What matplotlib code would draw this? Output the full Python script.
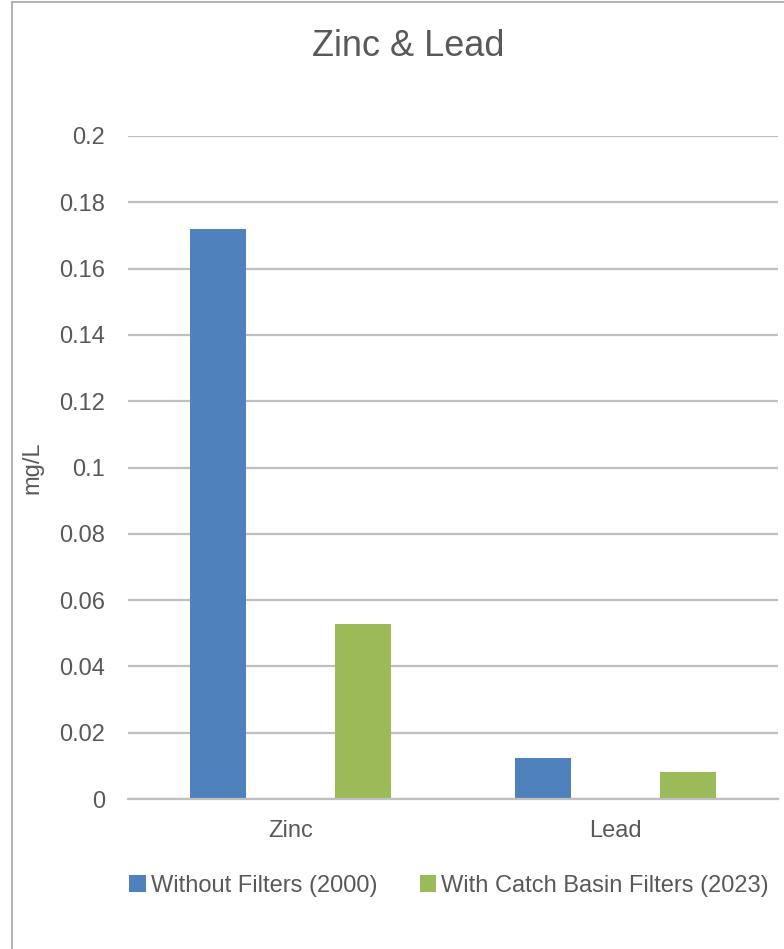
import matplotlib
matplotlib.use("Agg")
import matplotlib.pyplot as plt
from matplotlib.patches import Rectangle
import numpy as np

# Metal concentrations in stormwater runoff (mg/L)
categories = ["Zinc", "Lead"]
series_names = ["Without Filters (2000)", "With Catch Basin Filters (2023)"]
without_filters = [0.172, 0.0125]
with_filters = [0.0527, 0.0080]
y_ticks = [0, 0.02, 0.04, 0.06, 0.08, 0.1, 0.12, 0.14, 0.16, 0.18, 0.2]
y_tick_labels = ["0", "0.02", "0.04", "0.06", "0.08", "0.1", "0.12", "0.14", "0.16", "0.18", "0.2"]

BLUE = "#4F81BD"
GREEN = "#9BBB59"
TEXT = "#595959"
GRID = "#BFBFBF"

plt.rcParams["font.family"] = ["Liberation Sans", "DejaVu Sans"]

W, H = 784, 949
fig = plt.figure(figsize=(W / 100, H / 100), dpi=100)
fig.patch.set_facecolor("white")

# chart-area frame
fig.patches.append(Rectangle((12 / W, -0.05), 1.2, (H - 2) / H + 0.05,
                             transform=fig.transFigure, fill=False,
                             edgecolor="#B4B4B4", linewidth=1.5))

ax = fig.add_axes([128 / W, (H - 799) / H, (778 - 128) / W, (799 - 136) / H])
x = np.arange(len(categories))
bar_w = 0.175
offset = 0.223
ax.bar(x - offset, without_filters, width=bar_w, color=BLUE, label=series_names[0], zorder=3)
ax.bar(x + offset, with_filters, width=bar_w, color=GREEN, label=series_names[1], zorder=3)

ax.set_xlim(-0.5, len(categories) - 0.5)
ax.set_ylim(0, 0.2)
ax.set_yticks(y_ticks)
ax.set_yticklabels(y_tick_labels)
ax.set_xticks(x)
ax.set_xticklabels(categories)
ax.yaxis.grid(True, color=GRID, linewidth=1.6, zorder=0)
ax.set_axisbelow(True)
for s in ["top", "right", "left"]:
    ax.spines[s].set_visible(False)
ax.spines["bottom"].set_color(GRID)
ax.spines["bottom"].set_linewidth(1.6)
ax.spines["bottom"].set_zorder(4)
ax.tick_params(axis="both", length=0, labelsize=17, colors=TEXT)
ax.tick_params(axis="y", pad=16.5)
ax.tick_params(axis="x", pad=15)
ax.set_ylabel("mg/L", fontsize=17, color=TEXT)
ax.yaxis.set_label_coords(-85 / 650, 0.5)

fig.text(408 / W, 1 - 46 / H, "Zinc & Lead", ha="center", va="center",
         fontsize=26, color=TEXT)

leg = fig.legend(loc="center", bbox_to_anchor=(449 / W, 1 - 886 / H), ncol=2,
                 frameon=False, fontsize=17, handlelength=0.7, handleheight=0.7,
                 handletextpad=0.2, columnspacing=1.8, labelcolor=TEXT)

fig.savefig("out.png", dpi=100, facecolor="white")
